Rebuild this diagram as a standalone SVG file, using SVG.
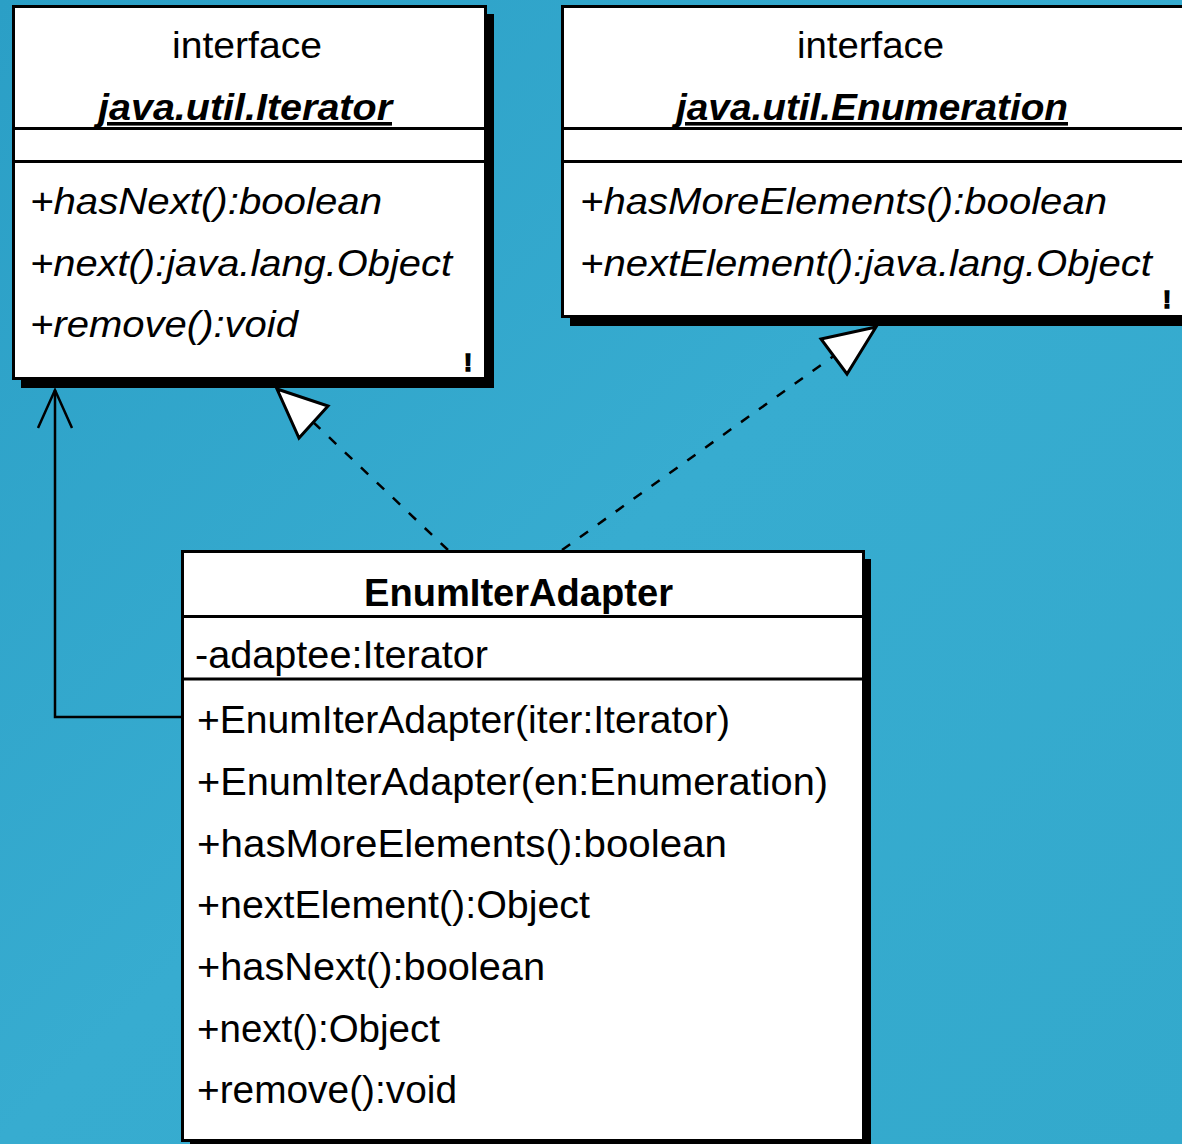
<svg xmlns="http://www.w3.org/2000/svg" width="1182" height="1144" viewBox="0 0 1182 1144">
<defs>
<linearGradient id="bg" x1="0" y1="0" x2="1" y2="1">
<stop offset="0" stop-color="#2b9fc6"/>
<stop offset="0.5" stop-color="#37acd0"/>
<stop offset="1" stop-color="#33a9cc"/>
</linearGradient>
<style>
.box{fill:#fff;stroke:#000;stroke-width:3}
.shadow{fill:#000}
.sep{stroke:#000;stroke-width:3}
text{font-family:"Liberation Sans",Arial,sans-serif;fill:#000}
.t36{font-size:36px}
.t38{font-size:38px}
.it{font-style:italic}
.bi{font-style:italic;font-weight:bold;text-decoration:underline}
.b{font-weight:bold}
.mark{font-size:24px;font-weight:bold;stroke:#000;stroke-width:1.5}
.dash{fill:none;stroke:#000;stroke-width:2.5;stroke-dasharray:10 12}
.solid{fill:none;stroke:#000;stroke-width:2.5}
.tri{fill:#fff;stroke:#000;stroke-width:3;stroke-linejoin:miter}
</style>
</defs>
<rect width="1182" height="1144" fill="url(#bg)"/>

<g id="connectors">
<polyline class="solid" points="181,717 55,717 55,390"/>
<polyline class="solid" points="38,428 55,390 72,428"/>
<line class="dash" x1="448" y1="550" x2="313" y2="422"/>
<polygon class="tri" points="277,389 328,406 299,438"/>
<line class="dash" x1="562" y1="550" x2="835" y2="355"/>
<polygon class="tri" points="876,327 847,374 821,339"/>
</g>

<g id="iterator">
<rect class="shadow" x="21" y="14" width="473" height="374"/>
<rect class="box" x="13.5" y="6.5" width="472" height="372"/>
<line class="sep" x1="13" y1="128.5" x2="486" y2="128.5"/>
<line class="sep" x1="13" y1="161.5" x2="486" y2="161.5"/>
<text class="t36" x="172" y="58" textLength="150" lengthAdjust="spacingAndGlyphs">interface</text>
<text class="t36 bi" x="98" y="120" textLength="294" lengthAdjust="spacingAndGlyphs">java.util.Iterator</text>
<text class="t36 it" x="30" y="214" textLength="352" lengthAdjust="spacingAndGlyphs">+hasNext():boolean</text>
<text class="t36 it" x="30" y="276" textLength="422" lengthAdjust="spacingAndGlyphs">+next():java.lang.Object</text>
<text class="t36 it" x="30" y="337" textLength="268" lengthAdjust="spacingAndGlyphs">+remove():void</text>
<text class="mark" x="464" y="371">!</text>
</g>

<g id="enumeration">
<rect class="shadow" x="570" y="14" width="630" height="312"/>
<rect class="box" x="562.5" y="6.5" width="630" height="310"/>
<line class="sep" x1="562" y1="128.5" x2="1182" y2="128.5"/>
<line class="sep" x1="562" y1="161.5" x2="1182" y2="161.5"/>
<text class="t36" x="797" y="58" textLength="147" lengthAdjust="spacingAndGlyphs">interface</text>
<text class="t36 bi" x="676" y="120" textLength="392" lengthAdjust="spacingAndGlyphs">java.util.Enumeration</text>
<text class="t36 it" x="580" y="214" textLength="527" lengthAdjust="spacingAndGlyphs">+hasMoreElements():boolean</text>
<text class="t36 it" x="580" y="276" textLength="572" lengthAdjust="spacingAndGlyphs">+nextElement():java.lang.Object</text>
<text class="mark" x="1163" y="308">!</text>
</g>

<g id="enumiteradapter">
<rect class="shadow" x="190" y="559" width="681" height="600"/>
<rect class="box" x="182.5" y="551.5" width="681" height="589"/>
<line class="sep" x1="182" y1="616.5" x2="864" y2="616.5"/>
<line class="sep" x1="182" y1="679" x2="864" y2="679"/>
<text class="t38 b" x="364" y="606" textLength="309" lengthAdjust="spacingAndGlyphs">EnumIterAdapter</text>
<text class="t38" x="195" y="668" textLength="293" lengthAdjust="spacingAndGlyphs">-adaptee:Iterator</text>
<text class="t38" x="197" y="733" textLength="533" lengthAdjust="spacingAndGlyphs">+EnumIterAdapter(iter:Iterator)</text>
<text class="t38" x="197" y="795" textLength="631" lengthAdjust="spacingAndGlyphs">+EnumIterAdapter(en:Enumeration)</text>
<text class="t38" x="197" y="857" textLength="530" lengthAdjust="spacingAndGlyphs">+hasMoreElements():boolean</text>
<text class="t38" x="197" y="918" textLength="393" lengthAdjust="spacingAndGlyphs">+nextElement():Object</text>
<text class="t38" x="197" y="980" textLength="348" lengthAdjust="spacingAndGlyphs">+hasNext():boolean</text>
<text class="t38" x="197" y="1042" textLength="243" lengthAdjust="spacingAndGlyphs">+next():Object</text>
<text class="t38" x="197" y="1103" textLength="260" lengthAdjust="spacingAndGlyphs">+remove():void</text>
</g>
</svg>
